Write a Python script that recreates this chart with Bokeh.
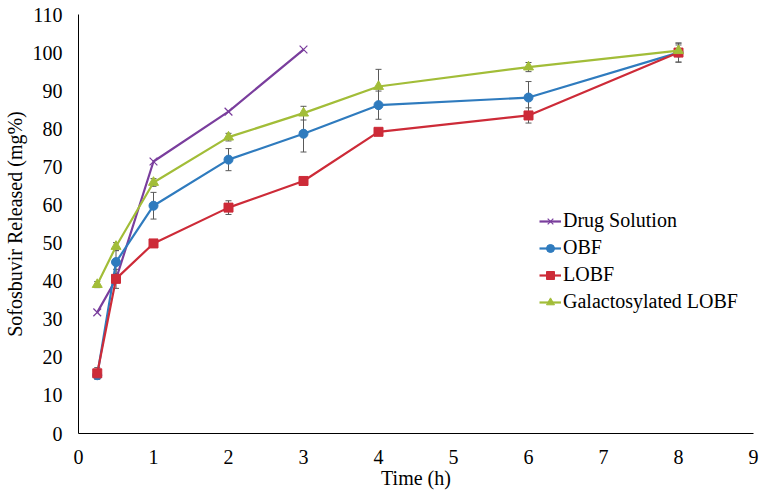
from bokeh.plotting import figure
from bokeh.models import ColumnDataSource, Whisker, TeeHead, Legend, LegendItem, FixedTicker, Range1d
from bokeh.embed import file_html
from bokeh.resources import INLINE

time_h = [0.25, 0.5, 1, 2, 3, 4, 6, 8]
drug_time = [0.25, 0.5, 1, 2, 3]
drug_solution = [31.8, 40.5, 71.4, 84.5, 100.8]
obf = [15.3, 45.0, 59.8, 71.9, 78.7, 86.2, 88.2, 100.0]
obf_err = [1.0, 3.0, 3.5, 2.9, 4.8, 3.7, 4.2, 2.5]
lobf = [15.8, 40.6, 49.9, 59.3, 66.3, 79.2, 83.5, 100.0]
lobf_err = [1.5, 2.5, 0.8, 1.8, 0.8, 0.8, 2.0, 2.5]
galact = [39.1, 49.1, 65.9, 77.8, 84.1, 91.1, 96.2, 100.5]
galact_err = [0.8, 1.0, 1.0, 1.0, 1.8, 4.5, 1.2, 1.5]
x_ticks = [0, 1, 2, 3, 4, 5, 6, 7, 8, 9]
y_ticks = [0, 10, 20, 30, 40, 50, 60, 70, 80, 90, 100, 110]

FONT = "Liberation Serif"
C_DRUG = "#7A3E9D"
C_OBF = "#2F7BBE"
C_LOBF = "#CD2B38"
C_GAL = "#A2BD38"
C_ERR = "#595959"

p = figure(frame_width=675, frame_height=419, output_backend="svg", toolbar_location=None,
           x_range=Range1d(0, 9), y_range=Range1d(0, 110),
           min_border_left=0, min_border_right=6, min_border_top=14, min_border_bottom=0)
p.outline_line_color = None
p.grid.grid_line_color = None
p.background_fill_color = "white"

for ax in (p.xaxis[0], p.yaxis[0]):
    ax.axis_line_color = "black"
    ax.axis_line_width = 1
    ax.major_tick_line_color = None
    ax.minor_tick_line_color = None
    ax.major_tick_out = 0
    ax.major_tick_in = 0
    ax.minor_tick_out = 0
    ax.major_label_text_font = FONT
    ax.major_label_text_font_size = "20px"
    ax.major_label_text_color = "black"
    ax.axis_label_text_font = FONT
    ax.axis_label_text_font_size = "20px"
    ax.axis_label_text_font_style = "normal"
    ax.axis_label_text_color = "black"

p.xaxis.ticker = FixedTicker(ticks=x_ticks)
p.yaxis.ticker = FixedTicker(ticks=y_ticks)
p.xaxis.axis_label = "Time (h)"
p.yaxis.axis_label = "Sofosbuvir Released (mg%)"
p.xaxis.major_label_standoff = 16
p.yaxis.major_label_standoff = 16
p.xaxis.axis_label_standoff = 0
p.yaxis.axis_label_standoff = 4

def add_err(xs, ys, errs):
    src = ColumnDataSource(dict(x=xs, up=[y + e for y, e in zip(ys, errs)],
                                lo=[y - e for y, e in zip(ys, errs)]))
    w = Whisker(source=src, base="x", upper="up", lower="lo", line_color=C_ERR, line_width=1,
                upper_head=TeeHead(size=6, line_color=C_ERR, line_width=1),
                lower_head=TeeHead(size=6, line_color=C_ERR, line_width=1))
    p.add_layout(w)

items = []
l1 = p.line(drug_time, drug_solution, line_color=C_DRUG, line_width=2.2)
m1 = p.scatter(drug_time, drug_solution, marker="x", size=11, line_color=C_DRUG, line_width=1.2)
items.append(LegendItem(label="Drug Solution", renderers=[l1, m1]))

add_err(time_h, obf, obf_err)
l2 = p.line(time_h, obf, line_color=C_OBF, line_width=2.2)
m2 = p.scatter(time_h, obf, marker="circle", size=9, fill_color=C_OBF, line_color=C_OBF)
items.append(LegendItem(label="OBF", renderers=[l2, m2]))

add_err(time_h, lobf, lobf_err)
l3 = p.line(time_h, lobf, line_color=C_LOBF, line_width=2.2)
m3 = p.scatter(time_h, lobf, marker="square", size=9, fill_color=C_LOBF, line_color=C_LOBF)
items.append(LegendItem(label="LOBF", renderers=[l3, m3]))

add_err(time_h, galact, galact_err)
l4 = p.line(time_h, galact, line_color=C_GAL, line_width=2.2)
m4 = p.scatter(time_h, galact, marker="triangle", size=10, fill_color=C_GAL, line_color=C_GAL)
items.append(LegendItem(label="Galactosylated LOBF", renderers=[l4, m4]))

legend = Legend(items=items, location=(461, 120), border_line_color=None,
                background_fill_alpha=0, label_text_font=FONT, label_text_font_size="20px",
                label_text_color="black", glyph_width=22, glyph_height=20, label_height=20,
                spacing=4, padding=0, margin=0, label_standoff=2)
p.add_layout(legend, "center")

open("out.html", "w").write(file_html(p, INLINE))
